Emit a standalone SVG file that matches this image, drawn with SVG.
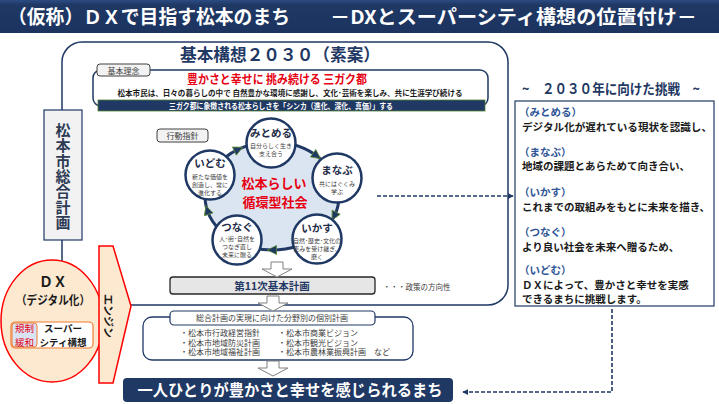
<svg xmlns="http://www.w3.org/2000/svg" width="719" height="404" viewBox="0 0 719 404">
<defs>
<style>
text{font-family:"Noto Sans CJK JP","Noto Sans",sans-serif}
.b{font-weight:bold}
.nv{fill:#1f3864}
.wt{fill:#ffffff}
.gy{fill:#404040}
.ct{text-anchor:middle}
.cir{fill:#ffffff;stroke:#1f3864;stroke-width:2.5}
.ttl{font-size:10.5px;font-weight:bold;fill:#1f2d4a;text-anchor:middle}
.sub{font-size:6px;fill:#404040;text-anchor:middle}
.lbl{fill:#f2f2f2;stroke:#404040;stroke-width:1}
.itm{font-size:8px;fill:#404040}
.rp{font-size:10.5px;font-weight:bold;fill:#1a1a1a}
.rh{font-size:10.5px;font-weight:bold;fill:#2f5597}
.dash{fill:none;stroke:#1f3864;stroke-width:1.6;stroke-dasharray:4 2}
.darr{fill:#ffffff;stroke:#808080;stroke-width:1}
</style>
<path id="ah" d="M-4.5,-4.5 L4.5,0 L-4.5,4.5 Z" fill="#1f3864" stroke="#5b8a32" stroke-width="0.8"/>
<path id="dn" d="M-6,0 L6,0 L6,7 L15,7 L0,15 L-15,7 L-6,7 Z"/>
<marker id="mk" viewBox="0 0 8 8" refX="7" refY="4" markerWidth="6" markerHeight="6" orient="auto" markerUnits="userSpaceOnUse">
<path d="M0,0 L8,4 L0,8 Z" fill="#1f3864"/>
</marker>
<linearGradient id="tb" x1="0" y1="0" x2="0" y2="1">
<stop offset="0" stop-color="#2c4c84"/>
<stop offset="0.15" stop-color="#1f3864"/>
<stop offset="1" stop-color="#1c3360"/>
</linearGradient>
</defs>

<g id="title">
<rect x="0" y="0" width="719" height="33" fill="url(#tb)"/>
<text x="8" y="24" class="wt" font-size="19" font-weight="bold" textLength="282" lengthAdjust="spacingAndGlyphs">（仮称）ＤＸで目指す松本のまち</text>
<text x="330" y="24" class="wt" font-size="19" font-weight="bold" textLength="367" lengthAdjust="spacingAndGlyphs">－DXとスーパーシティ構想の位置付け－</text>
</g>

<g id="kihon-kousou">
<rect x="62" y="42" width="446" height="263" rx="20" fill="#ffffff" stroke="#1f3864" stroke-width="1.5"/>
<text x="280" y="61" class="nv b ct" font-size="17" textLength="200" lengthAdjust="spacingAndGlyphs">基本構想２０３０（素案）</text>
</g>

<g id="kihon-rinen">
<rect x="93" y="70" width="395" height="36" rx="8" fill="#ffffff" stroke="#1f3864" stroke-width="1.5"/>
<rect x="97" y="64" width="53" height="12" rx="3" class="lbl"/>
<text x="123.5" y="73.5" class="gy ct" font-size="8">基本理念</text>
<text x="277" y="83.5" class="b ct" font-size="12" fill="#e60012" textLength="180" lengthAdjust="spacingAndGlyphs">豊かさと幸せに 挑み続ける 三ガク都</text>
<text x="290" y="96" class="b ct" font-size="7.5" fill="#1a1a1a" textLength="345" lengthAdjust="spacingAndGlyphs">松本市民は、日々の暮らしの中で 自然豊かな環境に感謝し、文化･芸術を楽しみ、共に生涯学び続ける</text>
<rect x="98" y="100" width="387" height="11" fill="#1f3864" stroke="#548235" stroke-width="0.8"/>
<text x="281" y="108.8" class="wt b ct" font-size="8" textLength="224" lengthAdjust="spacingAndGlyphs">三ガク都に象徴される松本らしさを「シンカ（進化、深化、真価）」する</text>
</g>

<g id="koudou-shishin">
<rect x="157" y="129" width="51" height="13" rx="3" class="lbl"/>
<text x="182.5" y="139" class="gy ct" font-size="8">行動指針</text>
</g>

<g id="cycle">
<ellipse cx="272" cy="196" rx="67" ry="54" fill="#dbe5f1" stroke="#1f3864" stroke-width="3"/>
<use href="#ah" transform="translate(316.8,155.9) rotate(36)"/>
<use href="#ah" transform="translate(334.1,216.2) rotate(117)"/>
<use href="#ah" transform="translate(272,250) rotate(180)"/>
<use href="#ah" transform="translate(207.3,210) rotate(252)"/>
<use href="#ah" transform="translate(238.5,149.2) rotate(-25)"/>
<text class="b ct" font-size="13" fill="#e60012"><tspan x="274" y="188">松本らしい</tspan><tspan x="275" y="206.5">循環型社会</tspan></text>
</g>

<g id="mitomeru">
<circle cx="271" cy="143" r="24.5" class="cir"/>
<text x="271" y="137" class="ttl">みとめる</text>
<text class="sub"><tspan x="271" y="148">自分らしく生き</tspan><tspan x="271" y="156">支え合う</tspan></text>
</g>
<g id="manabu">
<circle cx="337" cy="178" r="24.5" class="cir"/>
<text x="337" y="174" class="ttl">まなぶ</text>
<text class="sub"><tspan x="337" y="185.5">共にはぐくみ</tspan><tspan x="337" y="193.5">学ぶ</tspan></text>
</g>
<g id="ikasu">
<circle cx="317" cy="239" r="24.5" class="cir"/>
<text x="317" y="232" class="ttl">いかす</text>
<text class="sub"><tspan x="317" y="243">自然･歴史･文化の</tspan><tspan x="317" y="251">恵みを受け継ぎ、</tspan><tspan x="317" y="259">磨く</tspan></text>
</g>
<g id="tsunagu">
<circle cx="237" cy="240" r="24.5" class="cir"/>
<text x="237" y="231" class="ttl">つなぐ</text>
<text class="sub"><tspan x="237" y="241">人･街･自然を</tspan><tspan x="237" y="249">つなぎ直し</tspan><tspan x="237" y="257">未来に贈る</tspan></text>
</g>
<g id="idomu">
<circle cx="210" cy="175" r="24.5" class="cir"/>
<text x="210" y="167" class="ttl">いどむ</text>
<text class="sub"><tspan x="210" y="178.5">新たな価値を</tspan><tspan x="210" y="186.5">創造し、常に</tspan><tspan x="210" y="194.5">進化する</tspan></text>
</g>

<g id="keikaku11">
<rect x="170" y="277" width="205" height="17" rx="3" fill="#e7e6e6" stroke="#262626" stroke-width="1.3"/>
<text x="272" y="289.5" class="b ct" font-size="10.5" fill="#1f3864">第11次基本計画</text>
<text x="383" y="290" class="gy" font-size="7.5">・・・政策の方向性</text>
</g>

<g id="kobetsu">
<rect x="143" y="317" width="270" height="43" rx="9" fill="#ffffff" stroke="#1f3864" stroke-width="1.3"/>
<rect x="170" y="311" width="205" height="14" rx="4" fill="#ffffff" stroke="#1f3864" stroke-width="1.2"/>
<text x="272" y="321" class="gy ct" font-size="8">総合計画の実現に向けた分野別の個別計画</text>
<text class="itm"><tspan x="180" y="336">・松本市行政経営指針</tspan><tspan x="180" y="345.5">・松本市地域防災計画</tspan><tspan x="180" y="355">・松本市地域福祉計画</tspan></text>
<text class="itm"><tspan x="278" y="336">・松本市商業ビジョン</tspan><tspan x="278" y="345.5">・松本市観光ビジョン</tspan><tspan x="278" y="355">・松本市農林業振興計画　など</tspan></text>
</g>

<g id="goal">
<rect x="123" y="378" width="330" height="24" rx="4" fill="#1f3864"/>
<text x="290" y="396" class="wt b ct" font-size="16" textLength="305" lengthAdjust="spacingAndGlyphs">一人ひとりが豊かさと幸せを感じられるまち</text>
</g>

<g id="sougou-keikaku">
<rect x="44" y="110" width="38" height="130" fill="#f2f2f2" stroke="#1f3864" stroke-width="1.2"/>
<text x="63" y="123" class="b" font-size="15" fill="#2e3b55" style="writing-mode:vertical-rl" letter-spacing="0.3">松本市総合計画</text>
</g>

<g id="dx">
<ellipse cx="52" cy="321" rx="51" ry="61" fill="#fde9d0" stroke="#ff0000" stroke-width="1.5"/>
<text x="53" y="286.5" class="b ct" font-size="14" fill="#1a1a1a">ＤＸ</text>
<text x="53" y="305" class="b ct" font-size="12" fill="#1a1a1a" textLength="74" lengthAdjust="spacingAndGlyphs">（デジタル化）</text>
<rect x="11" y="322" width="82" height="26" rx="4" fill="#ffffff" stroke="#ed7d31" stroke-width="1.2"/>
<rect x="12" y="323" width="25" height="24" rx="3" fill="#dae3f3" stroke="#ed7d31" stroke-width="1"/>
<text class="ct" font-size="9.5" fill="#e60012"><tspan x="24.5" y="332">規制</tspan><tspan x="24.5" y="346">緩和</tspan></text>
<text class="b ct" font-size="9.5" fill="#1a1a1a"><tspan x="63" y="332">スーパー</tspan><tspan x="63" y="346">シティ構想</tspan></text>
</g>

<g id="engine">
<polygon points="99,246 113,246 131,306 113,383 99,383" fill="#fde9d0" stroke="#ff0000" stroke-width="1.5"/>
<text transform="translate(104,316) rotate(90)" class="b ct" font-size="11" fill="#1a1a1a">エンジン</text>
</g>

<g id="challenge">
<text x="522" y="94" class="nv b" font-size="14" textLength="178" lengthAdjust="spacingAndGlyphs">~　２０３０年に向けた挑戦　~</text>
<rect x="515" y="101" width="199" height="205" fill="#ffffff" stroke="#1f3864" stroke-width="1.2"/>
<text x="519" y="116" class="rh">（みとめる）</text>
<text x="522" y="131" class="rp" textLength="190" lengthAdjust="spacingAndGlyphs">デジタル化が遅れている現状を認識し、</text>
<text x="519" y="156" class="rh">（まなぶ）</text>
<text x="522" y="170" class="rp">地域の課題とあらためて向き合い、</text>
<text x="519" y="196" class="rh">（いかす）</text>
<text x="522" y="211" class="rp">これまでの取組みをもとに未来を描き、</text>
<text x="519" y="236" class="rh">（つなぐ）</text>
<text x="522" y="251" class="rp">より良い社会を未来へ贈るため、</text>
<text x="519" y="274" class="rh">（いどむ）</text>
<text class="rp"><tspan x="522" y="288.5">ＤＸによって、豊かさと幸せを実感</tspan><tspan x="522" y="303">できるまちに挑戦します。</tspan></text>
</g>

<g id="connectors">
<use href="#dn" class="darr" transform="translate(277,262)"/>
<use href="#dn" class="darr" transform="translate(273,296)"/>
<use href="#dn" class="darr" transform="translate(273,361)"/>
<path d="M377,196 L513,196" class="dash" marker-end="url(#mk)"/>
<path d="M612,309 L612,392 L463,392" class="dash" marker-end="url(#mk)"/>
</g>
</svg>
